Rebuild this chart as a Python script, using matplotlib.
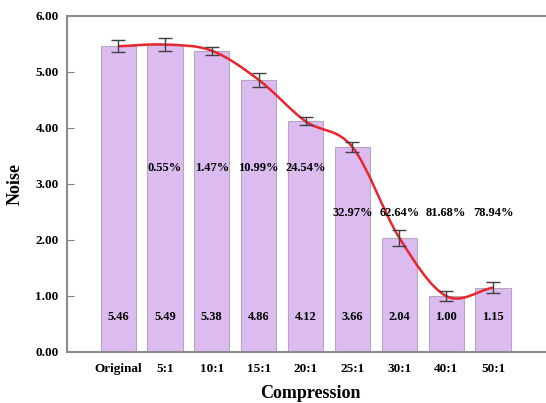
import numpy as np
import matplotlib.pyplot as plt
from matplotlib.path import Path
from matplotlib.patches import PathPatch

plt.rcParams['font.family'] = ['Liberation Serif', 'DejaVu Serif']
plt.rcParams['font.weight'] = 'bold'
plt.rcParams['axes.labelweight'] = 'bold'

# Noise per compression ratio
categories = ['Original', '5:1', '10:1', '15:1', '20:1', '25:1', '30:1', '40:1', '50:1']
noise = [5.46, 5.49, 5.38, 4.86, 4.12, 3.66, 2.04, 1.00, 1.15]
noise_err = [0.11, 0.11, 0.07, 0.13, 0.07, 0.09, 0.14, 0.09, 0.10]
reduction = ['', '0.55%', '1.47%', '10.99%', '24.54%', '32.97%', '62.64%', '81.68%', '78.94%']

x = np.arange(len(categories))
y = np.array(noise)

fig = plt.figure(figsize=(5.46, 4.03), dpi=100)
ax = fig.add_axes([67 / 546, 1 - 352 / 403, 1 - 67 / 546, (352 - 16) / 403])

ax.bar(x, y, width=0.75, color='#dcbcf0', edgecolor='#b4a8bc', linewidth=0.8, zorder=2)
ax.errorbar(x, y, yerr=noise_err, fmt='none', ecolor='#404040', elinewidth=1.0,
            capsize=5, capthick=1.0, zorder=4)

# smooth line through bar tops (Catmull-Rom style bezier segments)
t = np.gradient(y)
verts = [(x[0], y[0])]
codes = [Path.MOVETO]
for i in range(len(x) - 1):
    verts += [(x[i] + 1 / 3, y[i] + t[i] / 3),
              (x[i + 1] - 1 / 3, y[i + 1] - t[i + 1] / 3),
              (x[i + 1], y[i + 1])]
    codes += [Path.CURVE4] * 3
ax.add_patch(PathPatch(Path(verts, codes), facecolor='none', edgecolor='#e8262e',
                       linewidth=1.8, zorder=3))

# value labels near the bottom of each bar
for xi, v in zip(x, noise):
    ax.text(xi, 0.63, f'{v:.2f}', ha='center', va='center', fontsize=9, zorder=5)

# reduction labels, two rows
for xi, r in zip(x, reduction):
    if not r:
        continue
    ypos = 3.29 if xi <= 4 else 2.48
    ax.text(xi, ypos, r, ha='center', va='center', fontsize=9, zorder=5)

ax.set_xlim(-1.09, 9.13)
ax.set_ylim(0, 6)
ax.set_yticks(np.arange(0, 7, 1))
ax.set_yticklabels([f'{v:.2f}' for v in range(7)], fontsize=9.5)
ax.set_xticks(x)
ax.set_xticklabels(categories, fontsize=9.5)
ax.tick_params(axis='y', direction='in', length=5, color='#808080', pad=6)
ax.tick_params(axis='x', direction='in', length=3, color='#808080', pad=8)

for side in ['left', 'bottom', 'top']:
    ax.spines[side].set_color('#8c8c8c')
    ax.spines[side].set_linewidth(1.5)
ax.spines['right'].set_visible(False)

ax.set_xlabel('Compression', fontsize=13)
ax.set_ylabel('Noise', fontsize=13)
ax.xaxis.set_label_coords((310 - 67) / 479, -0.098)
ax.yaxis.set_label_coords(-0.09, 0.5)

fig.savefig('out.png', dpi=100)
